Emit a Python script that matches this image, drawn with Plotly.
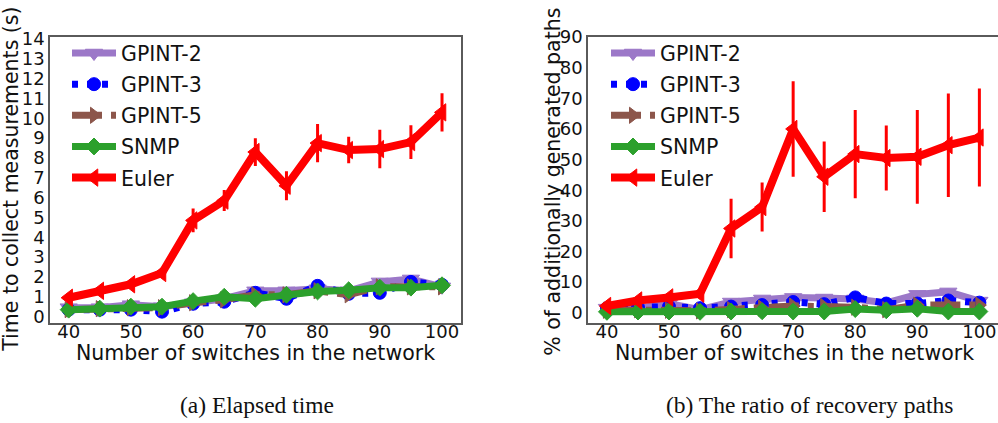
import plotly.graph_objects as go

# Number of switches in the network
switches = [40, 45, 50, 55, 60, 65, 70, 75, 80, 85, 90, 95, 100]

# (a) Time to collect measurements (s)
time_gpint2 = [0.45, 0.45, 0.6, 0.5, 0.7, 0.9, 1.3, 1.3, 1.4, 1.3, 1.75, 1.9, 1.5]
time_gpint3 = [0.35, 0.35, 0.35, 0.25, 0.65, 0.75, 1.2, 0.9, 1.55, 1.15, 1.2, 1.75, 1.6]
time_gpint5 = [0.35, 0.4, 0.45, 0.45, 0.7, 0.85, 1.1, 1.1, 1.3, 1.1, 1.5, 1.5, 1.5]
time_snmp = [0.35, 0.4, 0.5, 0.5, 0.78, 1.0, 0.9, 1.1, 1.27, 1.33, 1.46, 1.46, 1.58]
time_euler = [0.95, 1.3, 1.63, 2.2, 4.85, 5.85, 8.3, 6.6, 8.75, 8.4, 8.45, 8.8, 10.3]
time_err_small = [0.06, 0.06, 0.07, 0.07, 0.08, 0.08, 0.1, 0.1, 0.1, 0.1, 0.12, 0.12, 0.12]
time_err_euler = [0.05, 0.08, 0.1, 0.12, 0.6, 0.53, 0.7, 0.73, 0.96, 0.67, 0.97, 0.85, 0.96]

# (b) % of additionally generated paths
ratio_gpint2 = [1.5, 1.5, 3.0, 1.0, 3.5, 4.5, 5.0, 4.8, 4.5, 3.2, 6.0, 6.8, 3.8]
ratio_gpint3 = [1.5, 1.8, 2.0, 1.5, 2.0, 2.5, 3.5, 2.8, 5.0, 3.0, 3.0, 4.0, 3.3]
ratio_gpint5 = [0.8, 1.0, 0.8, 0.6, 1.0, 1.5, 2.2, 2.0, 1.8, 1.0, 2.5, 2.5, 2.5]
ratio_snmp = [0.3, 0.4, 0.4, 0.3, 0.4, 0.5, 0.4, 0.4, 1.2, 0.8, 1.3, 0.4, 0.4]
ratio_euler = [2.2, 4.0, 5.0, 6.2, 27.5, 34.5, 60.0, 44.4, 51.8, 50.5, 50.9, 54.7, 57.2]
ratio_err_small = [0.4, 0.4, 0.5, 0.4, 0.6, 0.6, 0.8, 0.8, 0.9, 0.7, 0.9, 0.9, 0.7]
ratio_err_euler = [0.5, 0.8, 1.0, 1.5, 9.7, 8.0, 15.6, 11.5, 14.4, 10.6, 15.3, 16.9, 16.0]

time_ticks = list(range(0, 15))
ratio_ticks = list(range(0, 91, 10))
x_ticks = [40, 50, 60, 70, 80, 90, 100]

W, H = 998, 423
FONT = "DejaVu Sans"

# name, colour, marker symbol, dash pattern, line width, marker size
styles = [
    ("GPINT-2", "#9c78c8", "triangle-down", "solid", 7, 15),
    ("GPINT-3", "#0000ff", "circle", "6px,9px", 7, 13),
    ("GPINT-5", "#8c564b", "triangle-right", "30px,9px,6px,9px", 7, 14),
    ("SNMP", "#2ca02c", "diamond", "solid", 7, 13),
    ("Euler", "#ff0000", "triangle-left", "solid", 8, 15),
]

panels = [
    ("x", "y", "legend",
     [time_gpint2, time_gpint3, time_gpint5, time_snmp, time_euler],
     [time_err_small] * 4 + [time_err_euler]),
    ("x2", "y2", "legend2",
     [ratio_gpint2, ratio_gpint3, ratio_gpint5, ratio_snmp, ratio_euler],
     [ratio_err_small] * 4 + [ratio_err_euler]),
]

fig = go.Figure()
for xa, ya, leg, series, errs in panels:
    for (name, color, symbol, dash, lw, ms), vals, err in zip(styles, series, errs):
        fig.add_trace(go.Scatter(
            x=switches, y=vals, name=name, mode="lines+markers",
            xaxis=xa, yaxis=ya, legend=leg, legendgroup=leg + name,
            line=dict(color=color, width=lw, dash=dash),
            marker=dict(symbol=symbol, size=ms, color=color,
                        line=dict(color=color, width=1)),
            error_y=dict(type="data", array=err, visible=True,
                         color=color, thickness=3, width=0),
        ))

px_x = lambda p: p / W
px_y = lambda p: (H - p) / H

axis_line = dict(showline=True, linecolor="#5a5a5a", linewidth=1.5,
                 showgrid=False, zeroline=False, ticks="",
                 tickfont=dict(family=FONT, size=18, color="#111"))

legend_style = dict(xanchor="left", yanchor="top", bgcolor="rgba(0,0,0,0)",
                    itemwidth=44, tracegroupgap=1.5,
                    font=dict(family=FONT, size=20.5, color="#111"))

fig.update_layout(
    width=W, height=H, margin=dict(l=0, r=0, t=0, b=0),
    paper_bgcolor="white", plot_bgcolor="white",
    xaxis=dict(domain=[px_x(50), px_x(461)], range=[37.0, 103.05],
               tickvals=x_ticks, mirror=True, anchor="y",
               ticklabelstandoff=-8, **axis_line),
    yaxis=dict(domain=[px_y(323), px_y(27)], range=[-0.3, 14.1],
               tickvals=time_ticks, mirror=True, anchor="x", **axis_line),
    xaxis2=dict(domain=[px_x(588), 1.0], range=[36.95, 103.0],
                tickvals=x_ticks, mirror=True, anchor="y2",
                ticklabelstandoff=-8, **axis_line),
    yaxis2=dict(domain=[px_y(323), px_y(27)], range=[-3.2, 90.0],
                tickvals=ratio_ticks, mirror=False, anchor="x2", **axis_line),
    legend=dict(x=px_x(67), y=px_y(23), **legend_style),
    legend2=dict(x=px_x(606), y=px_y(23), **legend_style),
)

label_font = dict(family=FONT, size=20.5, color="#111")
caption_font = dict(family="Liberation Serif", size=23.5, color="#111")
notes = [
    (256, 355, "Number of switches in the network", 0, label_font),
    (794, 355, "Number of switches in the network", 0, label_font),
    (11, 175, "Time to collect measurements (s)", -90, label_font),
    (553, 177, "% of additionally generated paths", -90, label_font),
    (257, 408, "(a) Elapsed time", 0, caption_font),
    (809, 408, "(b) The ratio of recovery paths", 0, caption_font),
]
for x, y, text, angle, font in notes:
    fig.add_annotation(x=px_x(x), y=px_y(y), xref="paper", yref="paper",
                       text=text, textangle=angle, showarrow=False,
                       xanchor="center", yanchor="middle", font=font)

fig.write_html("out.html")
